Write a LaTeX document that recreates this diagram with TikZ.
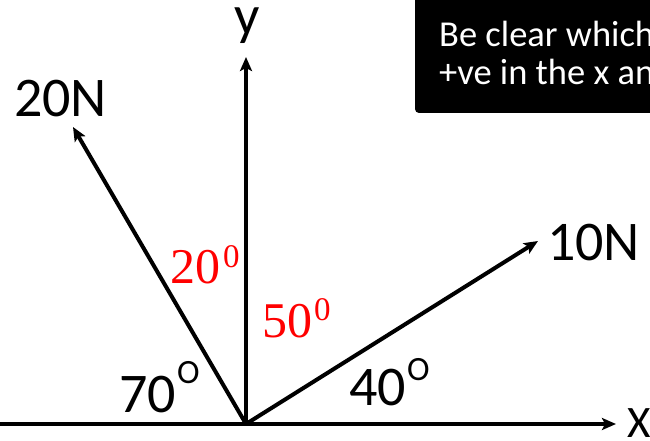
\documentclass[tikz,border=0pt]{standalone}
\usepackage{fontspec}
\newfontfamily\calib{Carlito}
\newfontfamily\serifred{Liberation Serif}
\usetikzlibrary{arrows.meta}
\tikzset{
  vec/.style={line width=4pt, -{Stealth[length=14pt,width=12pt,inset=3pt]}},
  lbl/.style={anchor=base west, inner sep=0pt, font=\calib\fontsize{56}{60}\selectfont},
  sup/.style={anchor=base west, inner sep=0pt, font=\calib\fontsize{34}{40}\selectfont},
  red lbl/.style={anchor=base west, inner sep=0pt, text=red, font=\serifred\fontsize{50}{60}\selectfont},
  red sup/.style={anchor=base west, inner sep=0pt, text=red, font=\serifred\fontsize{33}{40}\selectfont},
  boxtxt/.style={anchor=base west, inner sep=0pt, text=white, font=\calib\fontsize{36.5}{40}\selectfont}
}
\begin{document}
\begin{tikzpicture}[x=1pt,y=-1pt]
\useasboundingbox (0,0) rectangle (650,441);
\clip (0,0) rectangle (650,441);
\fill[white] (0,0) rectangle (650,441);
% origin and tips
\coordinate (O) at (246,424);
\coordinate (xstart) at (0,424);
\coordinate (xtip) at (616,424);
\coordinate (ytip) at (246,57);
\coordinate (t20) at (73,127);
\coordinate (t10) at (538,241);
% axes and force vectors
\draw[vec] (xstart) -- (xtip);
\draw[vec] (O) -- (ytip);
\draw[vec] (O) -- (t20);
\draw[vec] (O) -- (t10);
% axis labels
\node[lbl, text height=26pt] (ylbl) at (234,35) {y};
\node[anchor=base west, inner sep=0pt, font=\calib\fontsize{45}{50}\selectfont] (xlbl) at (627,437) {X};
% force labels
\node[lbl] (f20) at (14,117) {20N};
\node[lbl] (f10) at (547,260) {10N};
% black angles
\node[lbl] (a70) at (119,412) {70};
\node[sup] (a70s) at (177,383) {O};
\node[lbl] (a40) at (349,405) {40};
\node[sup] (a40s) at (407,380) {O};
% red angles
\node[red lbl] (r20) at (170,283) {20};
\node[red sup] (r20s) at (223,267) {0};
\node[red lbl] (r50) at (262,337) {50};
\node[red sup] (r50s) at (314,320) {0};
% note box
\fill[black, rounded corners=4pt] (415,-10) rectangle (670,113);
\node[boxtxt] (note1) at (439,47) {Be clear which};
\node[boxtxt] (note2) at (439,85) {+ve in the x an};
\end{tikzpicture}
\end{document}
